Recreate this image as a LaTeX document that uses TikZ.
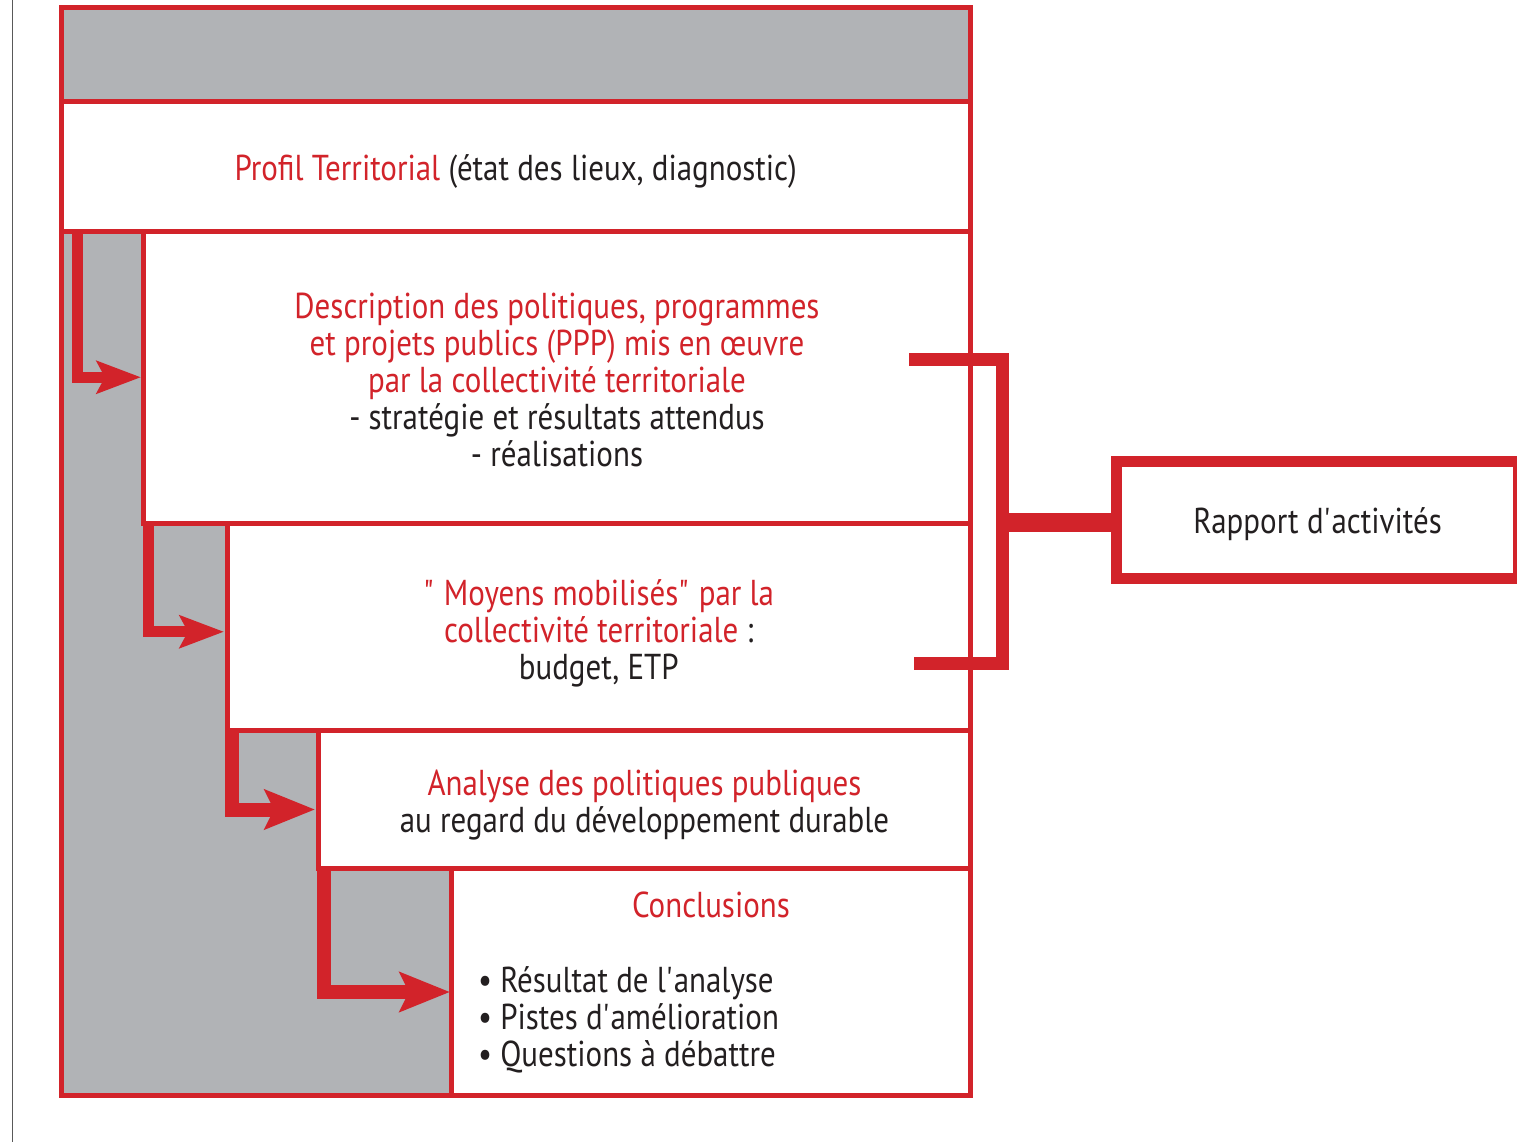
\documentclass[tikz,border=0pt]{standalone}
\usepackage{fontspec}
\setmainfont[FakeStretch=0.86]{PT Sans}
\usetikzlibrary{arrows.meta}
\definecolor{rred}{HTML}{D2232A}
\definecolor{rgrey}{HTML}{B1B3B6}
\definecolor{rtxt}{HTML}{231F20}
\newcommand{\ap}{\textquotesingle}
\newcommand{\qq}{\textquotedbl}
\newcommand{\rt}[1]{\textcolor{rred}{#1}}
\begin{document}
\begin{tikzpicture}[x=1pt,y=-1pt,
  txt/.style={text=rtxt, font=\fontsize{36}{37}\selectfont, inner sep=0pt, outer sep=0pt, align=center},
  box/.style={rectangle, draw=rred, line width=5pt, fill=white, anchor=north west, inner sep=0pt, outer sep=0pt},
  flowa/.style={draw=rred, line width=11pt, line join=miter, -{Stealth[length=44pt 0 0,width=32pt 0 0,inset=8pt 0 0]}},
  flowb/.style={draw=rred, line width=14pt, line join=miter, -{Stealth[length=50pt 0 0,width=39pt 0 0,inset=9pt 0 0]}},
  brk/.style={draw=rred, line width=13pt, line join=miter},
  stem/.style={draw=rred, line width=19pt}]
\useasboundingbox (0,0) rectangle (1517,1142);
\fill[white] (0,0) rectangle (1517,1142);
\draw[gray!70!black, line width=1pt] (12.5,0) -- (12.5,1142);
% boxes
\node[box, fill=rgrey, minimum width=909.5pt, minimum height=1088pt] (frame) at (61,7.5) {};
\node[box, minimum width=909.5pt, minimum height=130pt] (profil) at (61,101.5) {};
\node[box, minimum width=827pt, minimum height=291.5pt] (desc) at (143.5,231.5) {};
\node[box, minimum width=743.5pt, minimum height=207.5pt] (moyens) at (227,523) {};
\node[box, minimum width=652pt, minimum height=138pt] (analyse) at (318.5,730.5) {};
\node[box, minimum width=519pt, minimum height=227pt] (concl) at (451.5,868.5) {};
\node[box, minimum width=402pt, minimum height=117pt, line width=11pt] (rapport) at (1116.5,461.5) {};
% texts
\node[txt] (profiltxt) at ([yshift=-5pt]profil.center)
  {\rt{Profil Territorial} (état des lieux, diagnostic)};
\node[txt] (desctxt) at ([yshift=-3pt]desc.center)
  {\rt{Description des politiques, programmes}\\ \rt{et projets publics (PPP) mis en œuvre}\\ \rt{par la collectivité territoriale}\\ - stratégie et résultats attendus\\ - réalisations};
\node[txt] (moyenstxt) at ([yshift=-7pt]moyens.center)
  {\rt{\qq{} Moyens mobilisés\qq{} par la}\\ \rt{collectivité territoriale} :\\ budget, ETP};
\node[txt] (analysetxt) at ([yshift=-6pt]analyse.center)
  {\rt{Analyse des politiques publiques}\\ au regard du développement durable};
\node[txt, text=rred] (ctitle) at (711,905) {Conclusions};
\node[txt, anchor=west, align=left] (clist) at (478,1020)
  {• Résultat de l\ap analyse\\ • Pistes d\ap amélioration\\ • Questions à débattre};
\node[txt] (rapporttxt) at ([yshift=-4pt]rapport.center) {Rapport d\ap activités};
% flow arrows
\draw[flowa] ([xshift=16.5pt]profil.south west) |- ([xshift=-2.5pt]desc.west);
\draw[flowa] ([xshift=4.5pt]desc.south west) |- ([xshift=-3pt,yshift=-5pt]moyens.west);
\draw[flowb] ([xshift=5pt]moyens.south west) |- ([xshift=-3.5pt,yshift=-10pt]analyse.west);
\draw[flowb] ([xshift=5.5pt]analyse.south west) |- ([xshift=-1.5pt,yshift=-10pt]concl.west);
% bracket
\coordinate (bt) at (909,359);
\coordinate (bc) at (1002.5,522.5);
\coordinate (bb) at (914,663.5);
\draw[brk] (bt) -| (bc) |- (bb);
\draw[stem] (bc) -- (bc -| rapport.west);
\end{tikzpicture}
\end{document}
